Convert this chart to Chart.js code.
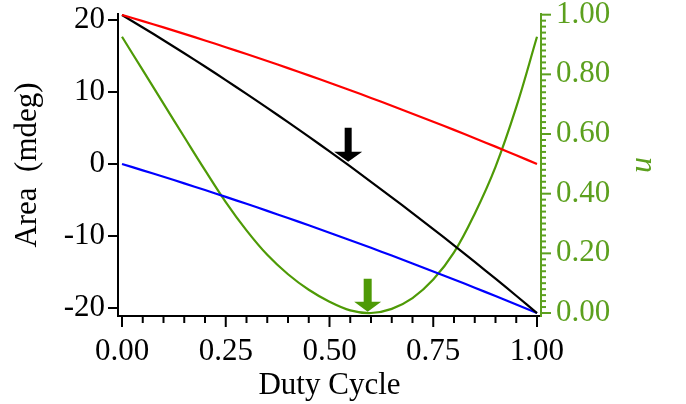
<!DOCTYPE html>
<html>
<head>
<meta charset="utf-8">
<script src="https://cdn.jsdelivr.net/npm/chart.js@4"></script>
<style>
    body { margin: 0; background: #fff; }
</style>
</head>
<body>
<canvas id="duty-chart" width="686" height="404"></canvas>
<script>
// values
const dutyCycle = [0, 0.05, 0.10, 0.15, 0.20, 0.25, 0.30, 0.35, 0.40, 0.45, 0.50,
                   0.55, 0.60, 0.65, 0.70, 0.75, 0.80, 0.85, 0.90, 0.95, 1.00];
const areaRed = [20.70, 19.84, 18.97, 18.07, 17.16, 16.22, 15.27, 14.30, 13.31, 12.31, 11.28,
                 10.24, 9.17, 8.09, 6.99, 5.87, 4.74, 3.58, 2.41, 1.21, 0];
const areaBlue = [0, -0.88, -1.78, -2.69, -3.62, -4.57, -5.53, -6.51, -7.50, -8.51, -9.54,
                  -10.58, -11.64, -12.72, -13.81, -14.92, -16.04, -17.18, -18.34, -19.51, -20.70];
const areaBlack = [20.70, 18.96, 17.19, 15.38, 13.54, 11.65, 9.74, 7.79, 5.81, 3.80, 1.74,
                   -0.34, -2.47, -4.63, -6.82, -9.05, -11.30, -13.60, -15.93, -18.30, -20.70];
const uValues = [0.926, 0.814, 0.702, 0.590, 0.479, 0.372, 0.277, 0.195, 0.130, 0.078, 0.038,
                 0.009, 0.000, 0.014, 0.050, 0.112, 0.203, 0.333, 0.490, 0.690, 0.926];

const dutyTicks = [0, 0.25, 0.5, 0.75, 1];
const areaTicks = [20, 10, 0, -10, -20];
const uTicks = [0, 0.2, 0.4, 0.6, 0.8, 1];

const blackArrowAt = [0.545, 0.3];   // duty, area
const greenArrowAt = [0.592, 0.004]; // duty, u

const GREEN = 'rgb(78, 154, 6)';
const GREEN_AXIS = 'rgb(92, 160, 30)';
const FONT = 'Liberation Serif';

const toPoints = function(ys){
    return dutyCycle.map((x, i) => ({x, y: ys[i]}));
};

const drawArrow = function(ctx, x, y, color, shaftW, shaftLen, headW, headH){
    ctx.fillStyle = color;
    ctx.beginPath();
    ctx.moveTo(x - shaftW / 2, y - headH - shaftLen);
    ctx.lineTo(x + shaftW / 2, y - headH - shaftLen);
    ctx.lineTo(x + shaftW / 2, y - headH);
    ctx.lineTo(x + headW / 2, y - headH);
    ctx.lineTo(x, y);
    ctx.lineTo(x - headW / 2, y - headH);
    ctx.lineTo(x - shaftW / 2, y - headH);
    ctx.closePath();
    ctx.fill();
};

const tickLine = function(ctx, x1, y1, x2, y2){
    ctx.beginPath();
    ctx.moveTo(x1, y1);
    ctx.lineTo(x2, y2);
    ctx.stroke();
};

// tick marks (major + minor), arrows and the rotated u title
const extrasPlugin = {
    id: 'extras',
    afterDatasetsDraw(chart){
        const ctx = chart.ctx;
        const x = chart.scales.x;
        const y = chart.scales.y;
        const u = chart.scales.u;

        ctx.save();
        drawArrow(ctx, x.getPixelForValue(blackArrowAt[0]), y.getPixelForValue(blackArrowAt[1]),
            '#000', 7, 24, 28, 10);
        drawArrow(ctx, x.getPixelForValue(greenArrowAt[0]), u.getPixelForValue(greenArrowAt[1]),
            GREEN, 8, 23, 27, 10);

        ctx.lineWidth = 2;
        ctx.strokeStyle = '#000';
        for (let i = 0; i <= 20; i++) {
            let px = x.getPixelForValue(i * 0.05);
            let len = (i % 5 === 0) ? 11 : 7;
            tickLine(ctx, px, x.top, px, x.top + len);
        }
        for (const v of areaTicks) {
            let py = y.getPixelForValue(v);
            tickLine(ctx, y.right, py, y.right - 10, py);
        }
        ctx.strokeStyle = GREEN_AXIS;
        for (let i = 0; i <= 50; i++) {
            let py = u.getPixelForValue(i * 0.02);
            let len = (i % 10 === 0) ? 10 : 5;
            tickLine(ctx, u.left, py, u.left + len, py);
        }

        ctx.translate(u.left + 102, (u.top + u.bottom) / 2);
        ctx.rotate(-Math.PI / 2);
        ctx.font = 'italic 32px ' + FONT;
        ctx.fillStyle = GREEN_AXIS;
        ctx.textAlign = 'center';
        ctx.textBaseline = 'middle';
        ctx.fillText('u', 0, 0);
        ctx.restore();
    }
};

const lineSet = function(label, ys, color, axis){
    return {
        label,
        data: toPoints(ys),
        borderColor: color,
        borderWidth: 2.2,
        pointRadius: 0,
        tension: 0.4,
        fill: false,
        yAxisID: axis
    };
};

const fitWidth = function(w){
    return function(s){
        s.width = w;
        s.paddingTop = 0;
        s.paddingBottom = 0;
    };
};

let ctx = document.getElementById('duty-chart');

let chart = new Chart(ctx, {
    type: 'line',
    data: {
        datasets: [
            lineSet('Red', areaRed, 'rgb(255, 0, 0)', 'y'),
            lineSet('Black', areaBlack, 'rgb(0, 0, 0)', 'y'),
            lineSet('Blue', areaBlue, 'rgb(0, 0, 255)', 'y'),
            lineSet('u', uValues, GREEN, 'u')
        ]
    },
    options: {
        responsive: false,
        animation: false,
        events: [],
        layout: { padding: { top: 14, left: 0, right: 0, bottom: 0 }, autoPadding: false },
        plugins: { legend: { display: false }, tooltip: { enabled: false } },
        scales: {
            x: {
                type: 'linear',
                position: 'bottom',
                min: -0.00964,
                max: 1.00964,
                afterBuildTicks: s => { s.ticks = dutyTicks.map(v => ({value: v})); },
                afterFit: s => { s.height = 88; s.paddingLeft = 0; s.paddingRight = 0; },
                grid: { display: false, drawTicks: false },
                border: { display: true, color: '#000', width: 2 },
                ticks: {
                    font: { family: FONT, size: 31 },
                    color: '#000',
                    padding: 17,
                    maxRotation: 0,
                    callback: v => v.toFixed(2)
                },
                title: {
                    display: true,
                    text: 'Duty Cycle',
                    font: { family: FONT, size: 31 },
                    color: '#000',
                    padding: { top: 0, bottom: 0 }
                }
            },
            y: {
                type: 'linear',
                position: 'left',
                min: -21.11,
                max: 20.83,
                afterBuildTicks: s => { s.ticks = areaTicks.map(v => ({value: v})); },
                afterFit: fitWidth(118),
                grid: { display: false, drawTicks: false },
                border: { display: true, color: '#000', width: 2 },
                ticks: {
                    font: { family: FONT, size: 31 },
                    color: '#000',
                    padding: 13,
                    callback: v => String(v)
                },
                title: {
                    display: true,
                    text: 'Area  (mdeg)',
                    font: { family: FONT, size: 31 },
                    color: '#000',
                    padding: { top: 9, bottom: 0 }
                }
            },
            u: {
                type: 'linear',
                position: 'right',
                min: -0.01,
                max: 1.0023,
                afterBuildTicks: s => { s.ticks = uTicks.map(v => ({value: v})); },
                afterFit: fitWidth(145),
                grid: { display: false, drawTicks: false },
                border: { display: true, color: GREEN_AXIS, width: 2 },
                ticks: {
                    font: { family: FONT, size: 31 },
                    color: GREEN_AXIS,
                    padding: 15,
                    callback: v => v.toFixed(2)
                }
            }
        }
    },
    plugins: [extrasPlugin]
});
</script>
</body>
</html>
